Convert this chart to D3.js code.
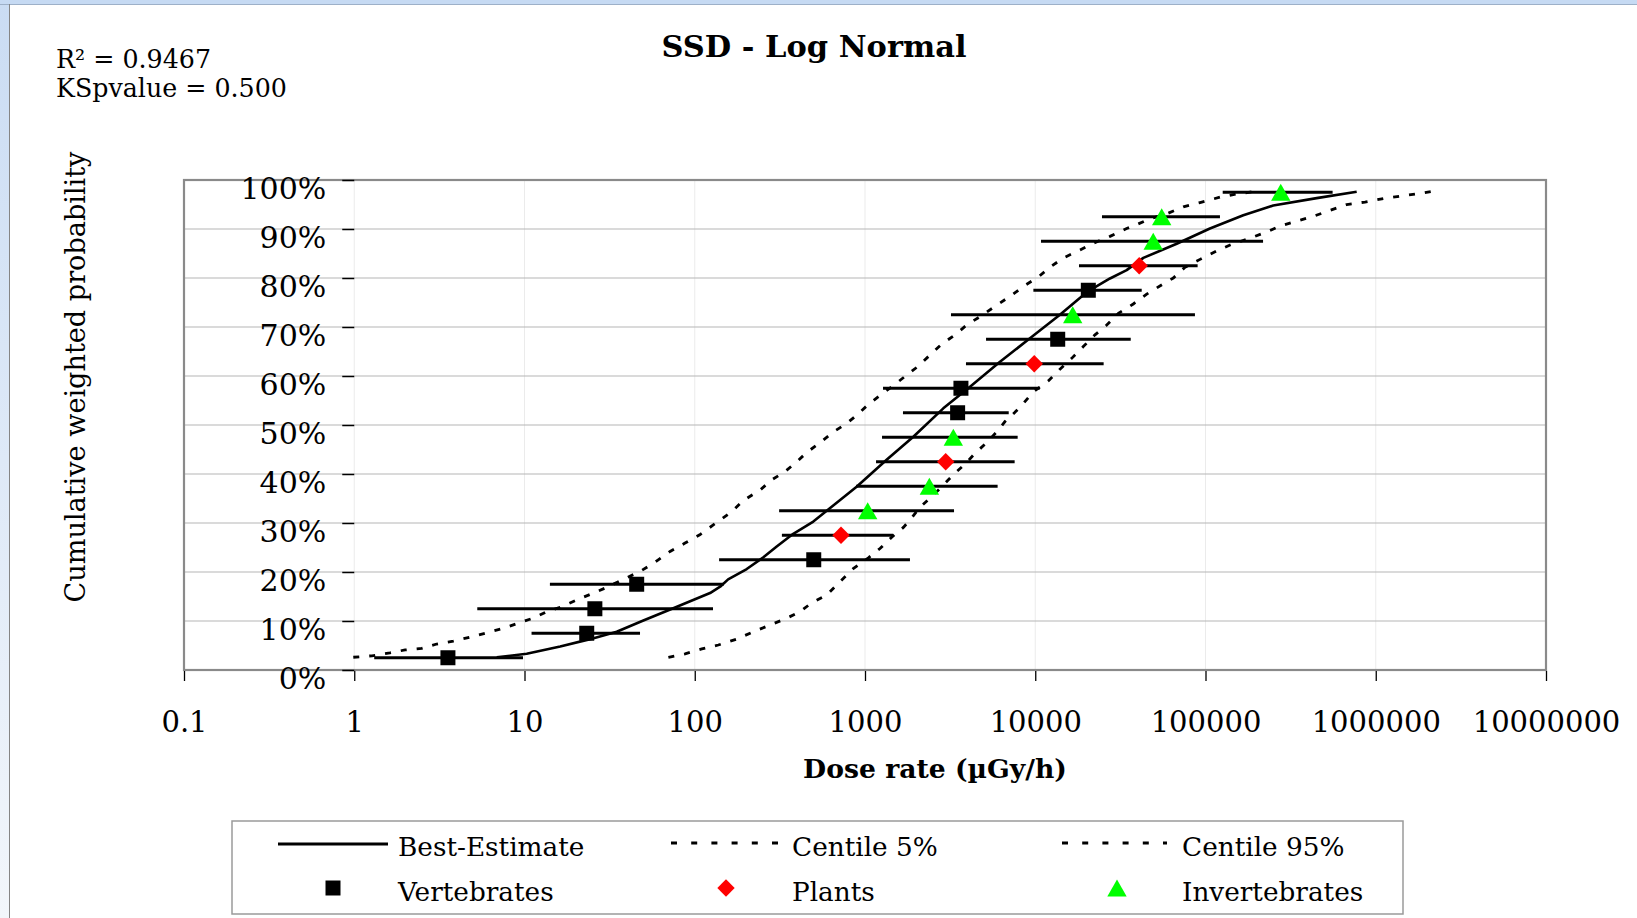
<!DOCTYPE html>
<html><head><meta charset="utf-8">
<script src="https://cdn.jsdelivr.net/npm/d3@7"></script>
<style>
html,body{margin:0;padding:0;background:#fff;}
svg{display:block;}
text{font-family:"DejaVu Serif",serif;fill:#000;}
</style></head><body>
<svg id="chart" width="1637" height="918"></svg>
<script>
// ---------- DATA ----------
const xTicks = [0.1, 1, 10, 100, 1000, 10000, 100000, 1000000, 10000000];
const xTickLabels = ["0.1", "1", "10", "100", "1000", "10000", "100000", "1000000", "10000000"];
const yTicks = [0, 0.1, 0.2, 0.3, 0.4, 0.5, 0.6, 0.7, 0.8, 0.9, 1.0];
const yTickLabels = ["0%", "10%", "20%", "30%", "40%", "50%", "60%", "70%", "80%", "90%", "100%"];

const vertP  = [0.025, 0.075, 0.125, 0.175, 0.225, 0.525, 0.575, 0.675, 0.775];
const vertX  = [3.55, 23.2, 25.9, 45.6, 500, 3500, 3660, 13550, 20500];
const vertLo = [1.31, 11.0, 5.28, 14.1, 139, 1671, 1276, 5140, 9750];
const vertHi = [9.8, 47.7, 128, 148, 1837, 6986, 10620, 36380, 42200];

const plantP  = [0.275, 0.425, 0.625, 0.825];
const plantX  = [723, 2979, 9863, 40800];
const plantLo = [325, 1161, 3918, 18070];
const plantHi = [1466, 7568, 25220, 89900];

const invP  = [0.325, 0.375, 0.475, 0.725, 0.875, 0.925, 0.975];
const invX  = [1037, 2388, 3302, 16600, 49300, 55300, 276700];
const invLo = [313, 885, 1259, 3199, 10810, 24660, 126200];
const invHi = [3334, 6012, 7883, 86700, 217800, 121600, 558000];

const bestX = [6.87, 10.3, 16.2, 24.3, 34.8, 49.9, 74.8, 123, 141, 157, 202, 253, 303, 379, 497, 893, 1340, 1923, 2884, 4140, 6210, 9310, 13960, 20050, 27480, 34430, 43150, 67760, 106200, 166700, 250000, 449800, 772700];
const bestP = [0.026, 0.033, 0.048, 0.063, 0.078, 0.101, 0.126, 0.157, 0.170, 0.185, 0.206, 0.230, 0.252, 0.278, 0.303, 0.374, 0.429, 0.476, 0.534, 0.578, 0.629, 0.677, 0.725, 0.771, 0.799, 0.816, 0.841, 0.870, 0.901, 0.928, 0.948, 0.963, 0.976];

const c5X = [0.987, 1.27, 1.62, 1.99, 2.49, 3.05, 3.82, 4.79, 6.0, 7.51, 9.42, 11.3, 13.5, 16.2, 20.3, 25.4, 29.7, 38.1, 47.6, 58.4, 71.6, 87.7, 107, 128.5, 165, 193, 241.5, 283, 339, 397, 455, 545, 652, 780, 893, 1047, 1254, 1500, 1758, 2056, 2410, 2820, 3378, 3955, 4732, 5800, 7200, 8710, 10420, 12210, 14630, 18330, 21940, 27480, 34430, 37660, 47200, 59160, 74100, 92900, 121700, 156000, 200000];
const c5P = [0.026, 0.029, 0.035, 0.041, 0.044, 0.053, 0.059, 0.067, 0.076, 0.085, 0.097, 0.106, 0.119, 0.128, 0.143, 0.157, 0.167, 0.185, 0.201, 0.220, 0.242, 0.259, 0.276, 0.296, 0.323, 0.346, 0.367, 0.388, 0.405, 0.425, 0.444, 0.464, 0.486, 0.503, 0.520, 0.542, 0.563, 0.583, 0.602, 0.620, 0.643, 0.665, 0.684, 0.704, 0.721, 0.742, 0.764, 0.785, 0.802, 0.822, 0.841, 0.857, 0.871, 0.885, 0.901, 0.906, 0.921, 0.931, 0.945, 0.954, 0.965, 0.972, 0.977];

const c95X = [70, 87.7, 110, 137.5, 176, 221, 277, 339, 415, 486, 596, 697, 853, 1047, 1225, 1435, 1680, 1837, 2102, 2465, 2823, 3304, 3866, 4426, 5185, 5937, 6640, 7600, 8510, 9750, 11930, 13970, 16360, 19150, 22430, 26300, 30780, 37660, 45150, 56500, 64700, 75800, 92900, 119000, 145600, 178200, 228700, 274000, 343400, 429900, 538700, 675000, 864700, 1107000, 1387000, 1778000, 2229000];
const c95P = [0.026, 0.033, 0.043, 0.051, 0.063, 0.078, 0.092, 0.104, 0.119, 0.137, 0.153, 0.177, 0.207, 0.229, 0.248, 0.271, 0.291, 0.306, 0.332, 0.354, 0.374, 0.399, 0.420, 0.442, 0.464, 0.486, 0.507, 0.526, 0.544, 0.568, 0.590, 0.614, 0.636, 0.660, 0.684, 0.704, 0.728, 0.747, 0.767, 0.788, 0.800, 0.822, 0.838, 0.857, 0.870, 0.880, 0.894, 0.906, 0.916, 0.926, 0.938, 0.950, 0.955, 0.962, 0.967, 0.972, 0.978];

const legendLabels = ["Best-Estimate", "Centile 5%", "Centile 95%", "Vertebrates", "Plants", "Invertebrates"];

// ---------- DRAW ----------
const W = 1637, H = 918;
const svg = d3.select("#chart");

function fitGroup(sels, targets, baseSize) {
  let sumW = 0, sumT = 0;
  sels.forEach((s, i) => { sumW += s.node().getComputedTextLength(); sumT += targets[i]; });
  const fs = baseSize * sumT / sumW;
  sels.forEach(s => s.style("font-size", fs + "px"));
}

// window frame
const defs = svg.append("defs");
const lg = defs.append("linearGradient").attr("id", "lg").attr("x1", 0).attr("y1", 0).attr("x2", 0).attr("y2", 1);
lg.append("stop").attr("offset", "0%").attr("stop-color", "#cadcf3");
lg.append("stop").attr("offset", "100%").attr("stop-color", "#f2f6fb");
svg.append("rect").attr("x", 0).attr("y", 0).attr("width", 9).attr("height", H).attr("fill", "url(#lg)");
svg.append("rect").attr("x", 0).attr("y", 0).attr("width", W).attr("height", 4).attr("fill", "#c6daf3");
svg.append("line").attr("x1", 0).attr("x2", W).attr("y1", 4.5).attr("y2", 4.5).attr("stroke", "#9db0c8").attr("stroke-width", 1);
svg.append("line").attr("x1", 9.5).attr("x2", 9.5).attr("y1", 4).attr("y2", H).attr("stroke", "#858585").attr("stroke-width", 1);

const x = d3.scaleLog().domain([0.1, 1e7]).range([184, 1546]);
const y = d3.scaleLinear().domain([0, 1]).range([670, 180]);

// gridlines
svg.append("g").selectAll("line").data(xTicks.slice(1, -1)).join("line")
  .attr("x1", d => x(d)).attr("x2", d => x(d)).attr("y1", 180).attr("y2", 670)
  .attr("stroke", "#ebebeb").attr("stroke-width", 1);
svg.append("g").selectAll("line").data(yTicks.slice(1, -1)).join("line")
  .attr("x1", 184).attr("x2", 1546).attr("y1", d => y(d)).attr("y2", d => y(d))
  .attr("stroke", "#b5b5b5").attr("stroke-width", 1.2);

// plot border
svg.append("rect").attr("x", 184).attr("y", 180).attr("width", 1546 - 184).attr("height", 490)
  .attr("fill", "none").attr("stroke", "#8a8a8a").attr("stroke-width", 2.2);

// x axis
const xAxis = d3.axisBottom(x).tickValues(xTicks)
  .tickFormat(d => xTickLabels[xTicks.indexOf(d)]).tickSize(10).tickPadding(0);
const gx = svg.append("g").attr("transform", "translate(0,671)").call(xAxis)
  .attr("font-family", null).attr("font-size", null);
gx.select(".domain").remove();
gx.selectAll(".tick line").attr("stroke", "#000").attr("stroke-width", 1.3);
gx.selectAll(".tick text").attr("y", 61).attr("dy", 0).style("font-size", "29px");

// y axis (crosses at x = 1)
const yAxis = d3.axisLeft(y).tickValues(yTicks)
  .tickFormat(d => yTickLabels[yTicks.indexOf(d)]).tickSize(12).tickPadding(16);
const gy = svg.append("g").attr("transform", `translate(${x(1)},0)`).call(yAxis)
  .attr("font-family", null).attr("font-size", null);
gy.select(".domain").remove();
gy.selectAll(".tick line").attr("stroke", "#000").attr("stroke-width", 1.5);
gy.selectAll(".tick text").attr("dy", 0).attr("y", 18).style("font-size", "30px");

// curves
const line = d3.line().x(d => x(d[0])).y(d => y(d[1]));
const zip = (a, b) => a.map((v, i) => [v, b[i]]);
svg.append("path").datum(zip(c5X, c5P)).attr("d", line)
  .attr("fill", "none").attr("stroke", "#000").attr("stroke-width", 2.8).attr("stroke-dasharray", "6,10");
svg.append("path").datum(zip(c95X, c95P)).attr("d", line)
  .attr("fill", "none").attr("stroke", "#000").attr("stroke-width", 2.8).attr("stroke-dasharray", "6,10");
svg.append("path").datum(zip(bestX, bestP)).attr("d", line)
  .attr("fill", "none").attr("stroke", "#000").attr("stroke-width", 2.6).attr("stroke-linejoin", "round");

// error bars
function bars(P, Lo, Hi) {
  svg.append("g").selectAll("line").data(P).join("line")
    .attr("x1", (d, i) => x(Lo[i])).attr("x2", (d, i) => x(Hi[i]))
    .attr("y1", d => y(d)).attr("y2", d => y(d))
    .attr("stroke", "#000").attr("stroke-width", 3.2);
}
bars(vertP, vertLo, vertHi);
bars(plantP, plantLo, plantHi);
bars(invP, invLo, invHi);

// markers
const squarePath = "M-7.5,-7.5H7.5V7.5H-7.5Z";
const diamondPath = "M0,-8.7L8.7,0L0,8.7L-8.7,0Z";
const trianglePath = "M0,-8.5L9.7,8.5L-9.7,8.5Z";
function markers(P, X, path, color) {
  svg.append("g").selectAll("path").data(P).join("path")
    .attr("d", path)
    .attr("transform", (d, i) => `translate(${x(X[i])},${y(d)})`)
    .attr("fill", color);
}
markers(vertP, vertX, squarePath, "#000");
markers(plantP, plantX, diamondPath, "#ff0000");
markers(invP, invX, trianglePath, "#00ff00");

// titles
const title = svg.append("text").attr("x", 814).attr("y", 57).attr("text-anchor", "middle")
  .style("font-weight", "bold").style("font-size", "31px").text("SSD - Log Normal");
fitGroup([title], [305], 31);

const r2 = svg.append("text").attr("x", 56).attr("y", 68).style("font-size", "25px").text("R² = 0.9467");
const ks = svg.append("text").attr("x", 56).attr("y", 97).style("font-size", "25px").text("KSpvalue = 0.500");
fitGroup([r2, ks], [154, 232], 25);

const yt = svg.append("text").attr("transform", "translate(85,377) rotate(-90)").attr("text-anchor", "middle")
  .style("font-size", "26px").text("Cumulative weighted probability");
fitGroup([yt], [451], 26);

const xt = svg.append("text").attr("x", 935).attr("y", 778).attr("text-anchor", "middle")
  .style("font-weight", "bold").style("font-size", "27px").text("Dose rate (µGy/h)");
fitGroup([xt], [264], 27);

// legend
const lgG = svg.append("g");
lgG.append("rect").attr("x", 232).attr("y", 821).attr("width", 1171).attr("height", 93)
  .attr("fill", "#fff").attr("stroke", "#9a9a9a").attr("stroke-width", 1.5);
lgG.append("line").attr("x1", 278).attr("x2", 388).attr("y1", 844).attr("y2", 844)
  .attr("stroke", "#000").attr("stroke-width", 2.8);
[[671, 778], [1062, 1167]].forEach(([a, b]) => {
  lgG.append("line").attr("x1", a).attr("x2", b).attr("y1", 843).attr("y2", 843)
    .attr("stroke", "#000").attr("stroke-width", 2.8).attr("stroke-dasharray", "6,14.2");
});
lgG.append("path").attr("d", squarePath).attr("transform", "translate(333,888)").attr("fill", "#000");
lgG.append("path").attr("d", diamondPath).attr("transform", "translate(726,888)").attr("fill", "#ff0000");
lgG.append("path").attr("d", trianglePath).attr("transform", "translate(1117,888)").attr("fill", "#00ff00");
const lx = [398, 792, 1182, 398, 792, 1182];
const ly = [856, 856, 856, 901, 901, 901];
const lsel = legendLabels.map((t, i) => lgG.append("text").attr("x", lx[i]).attr("y", ly[i]).style("font-size", "26px").text(t));
fitGroup(lsel, [189, 145, 164, 154.5, 83.4, 179], 26);
</script>
</body></html>
